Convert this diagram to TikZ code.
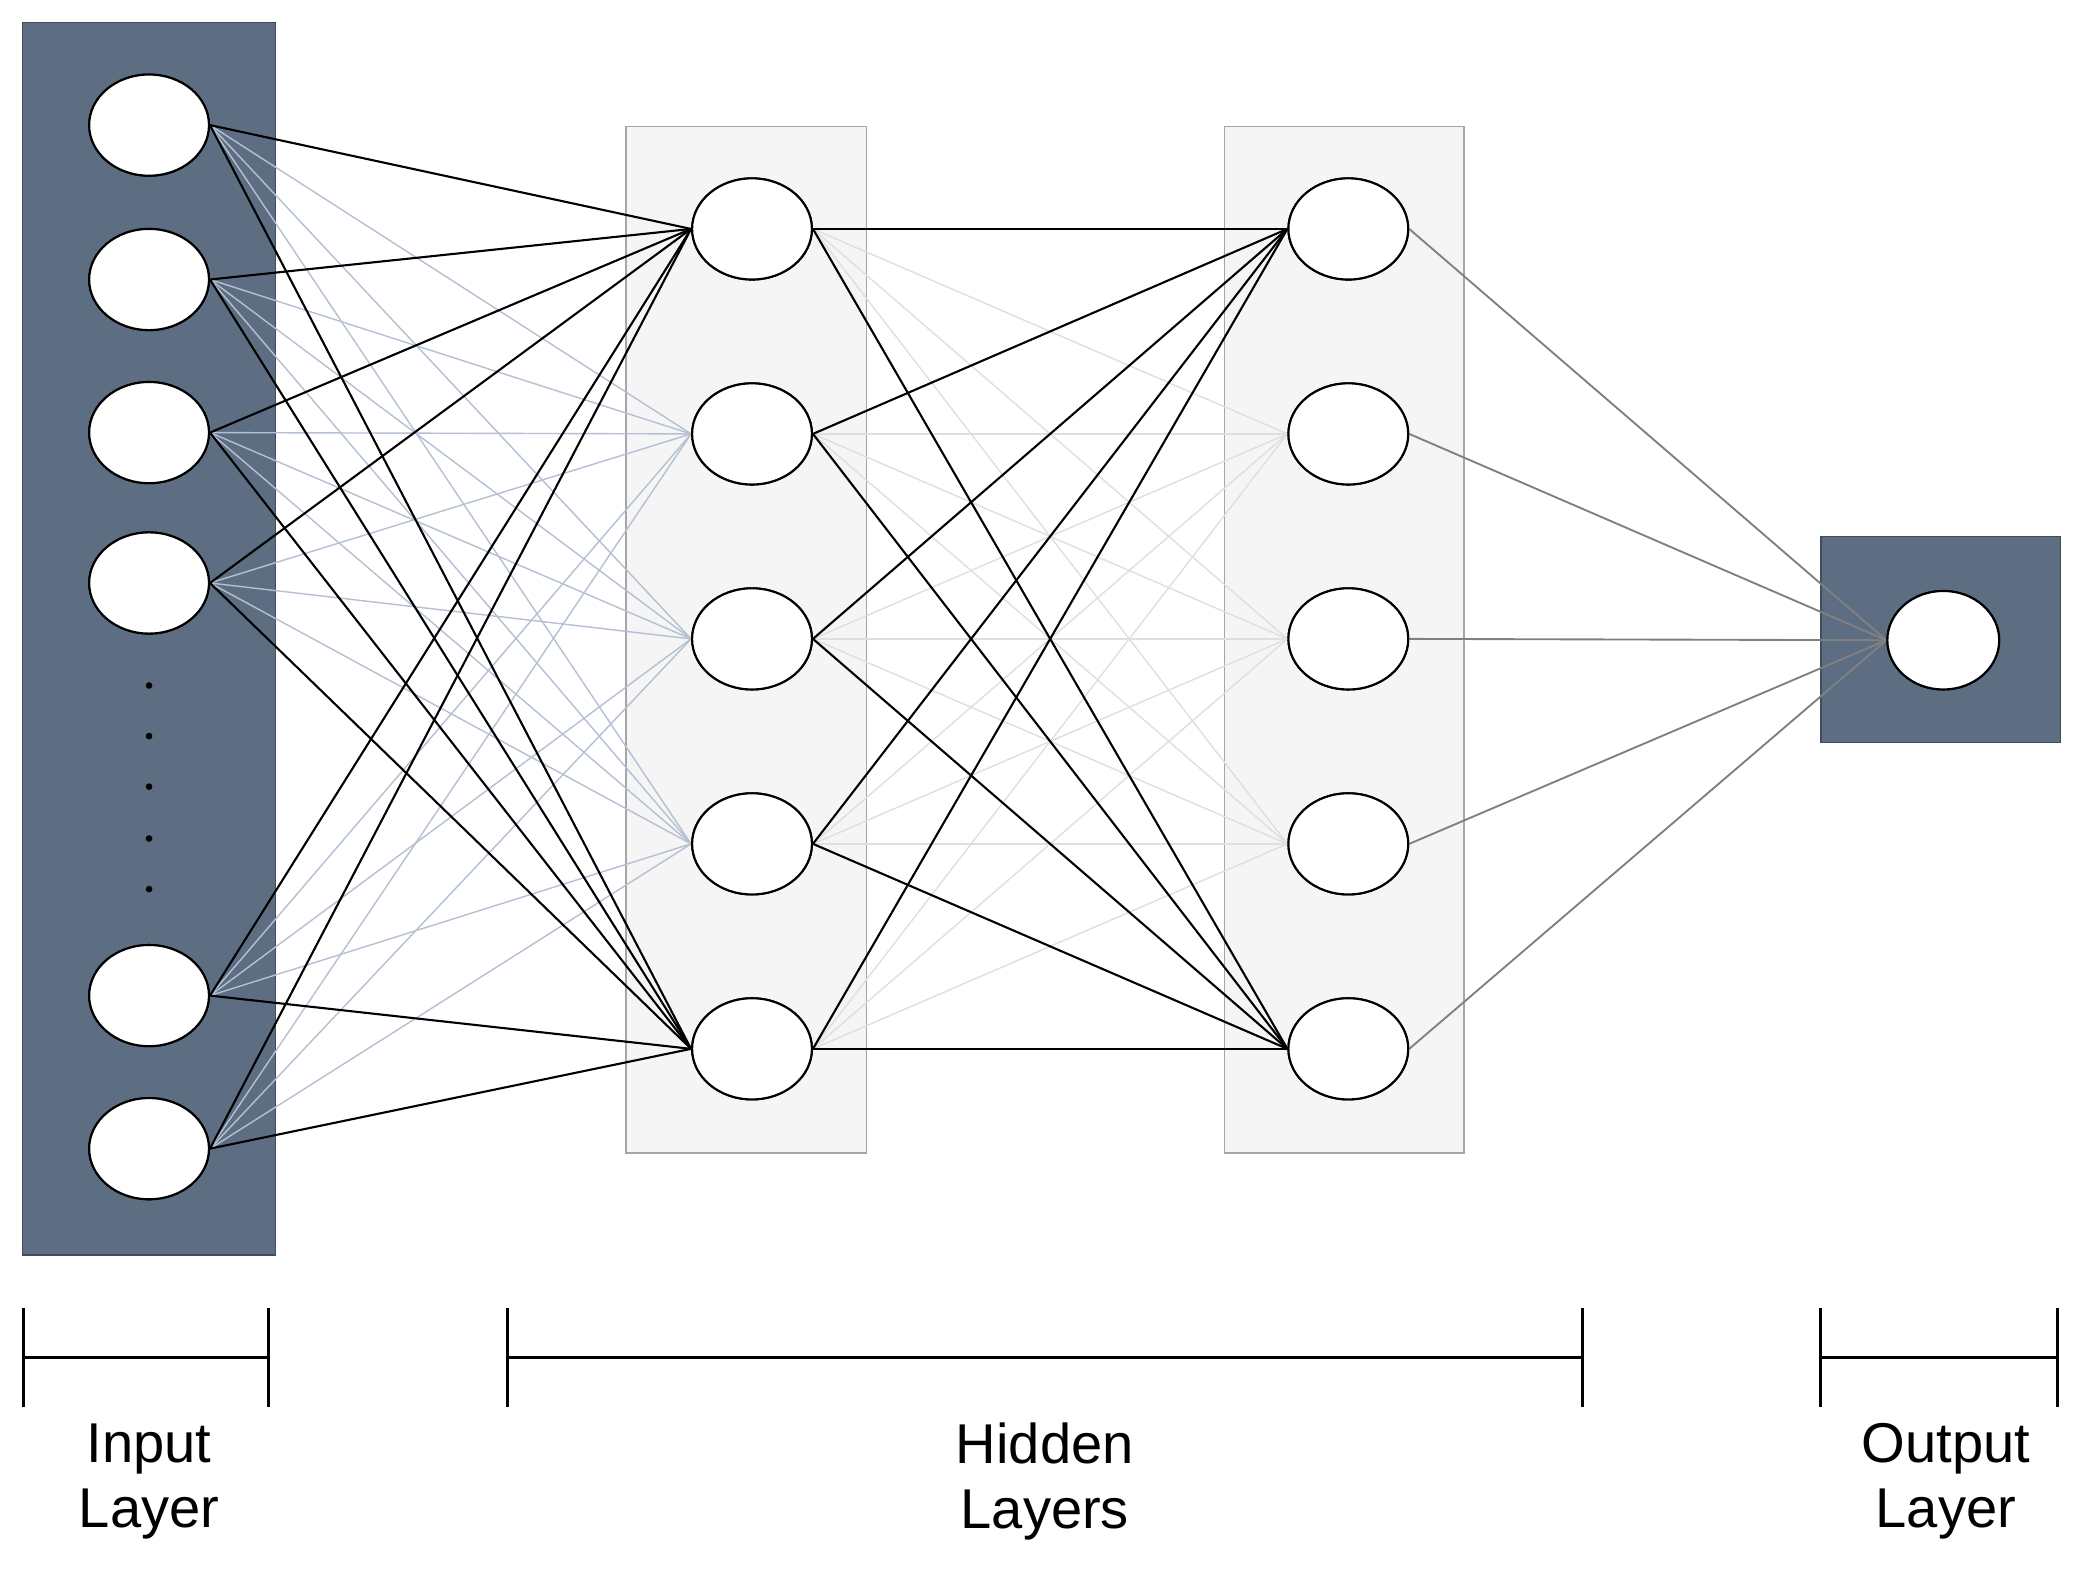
\documentclass[tikz,border=0pt]{standalone}
\usepackage{fontspec}
\setmainfont{Liberation Sans}
\begin{document}
\begin{tikzpicture}[x=0.02cm,y=-0.02cm,
  neu/.style={ellipse,draw=black,line width=0.9pt,fill=white,minimum width=90*0.02cm,minimum height=76*0.02cm,inner sep=0},
  lay/.style={draw=gray!70,fill=gray!8,line width=0.8pt},
  dark/.style={fill=slate,draw=slate!70!black,line width=0.6pt},
  blk/.style={black,line width=0.9pt},
  blu/.style={bluegray,line width=0.6pt},
  lgr/.style={gray!25,line width=0.6pt},
  ogr/.style={gray,line width=0.8pt},
  brk/.style={black,line width=1.3pt},
  lab/.style={font=\fontsize{24}{28}\selectfont,align=center}]
\usetikzlibrary{shapes.geometric}
\definecolor{slate}{HTML}{5E6E82}
\definecolor{bluegray}{HTML}{B4C0D4}
\useasboundingbox (0,0) rectangle (1568,1191);
\fill[white] (0,0) rectangle (1568,1191);
\draw[dark] (17,17) rectangle (207,943);
\draw[lay] (470,95) rectangle (651,866);
\draw[lay] (920,95) rectangle (1100,866);
\draw[dark] (1368,403) rectangle (1548,558);
\foreach \i/\y in {1/94,2/210,3/325,4/438,5/748,6/863} \node[neu] (i\i) at (112,\y) {};
\foreach \y in {515,553,591,630,668} \fill (112,\y) circle (2.5);
\foreach \i/\y in {1/172,2/326,3/480,4/634,5/788} {
  \node[neu] (a\i) at (565,\y) {};
  \node[neu] (b\i) at (1013,\y) {};
}
\node[neu,minimum width=84*0.02cm,minimum height=74*0.02cm] (o) at (1460,481) {};
\begin{scope}[on background layer/.style={}]
\foreach \i in {1,...,6} \foreach \j in {2,3,4} \draw[blu] (i\i.east) -- (a\j.west);
\foreach \i in {1,...,5} \foreach \j in {2,3,4} \draw[lgr] (a\i.east) -- (b\j.west);
\foreach \i in {1,...,6} \foreach \j in {1,5} \draw[blk] (i\i.east) -- (a\j.west);
\foreach \i in {1,...,5} \foreach \j in {1,5} \draw[blk] (a\i.east) -- (b\j.west);
\foreach \i in {1,...,5} \draw[ogr] (b\i.east) -- (o.west);
\end{scope}
\foreach \i/\y in {1/94,2/210,3/325,4/438,5/748,6/863} \node[neu] at (112,\y) {};
\foreach \i/\y in {1/172,2/326,3/480,4/634,5/788} {\node[neu] at (565,\y) {}; \node[neu] at (1013,\y) {};}
\node[neu,minimum width=84*0.02cm,minimum height=74*0.02cm] at (1460,481) {};
\foreach \a/\b in {18/202,381/1189,1368/1546} {
  \draw[brk] (\a,1020) -- (\b,1020);
  \draw[brk] (\a,983) -- (\a,1057);
  \draw[brk] (\b,983) -- (\b,1057);
}
\node[lab] (l1) at (112,1113) {Input\\Layer};
\node[lab] (l2) at (785,1113) {Hidden\\Layers};
\node[lab] (l3) at (1462,1113) {Output\\Layer};
\end{tikzpicture}
\end{document}
